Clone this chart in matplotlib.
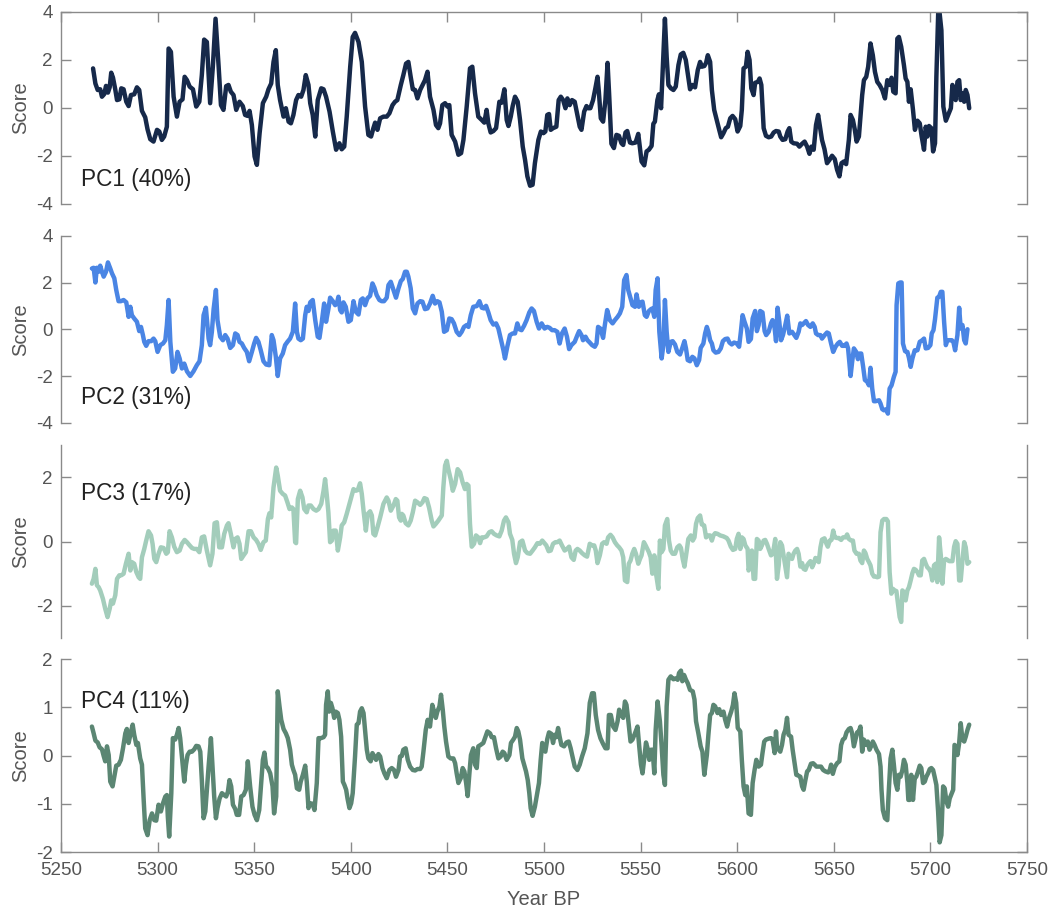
import matplotlib
matplotlib.use("Agg")
import matplotlib.pyplot as plt

plt.rcParams["font.family"] = ["Liberation Sans", "DejaVu Sans"]
plt.rcParams["axes.unicode_minus"] = False

# ---- PC1 ----
pc1_year = [
    5266.6, 5267.8, 5269.0, 5270.3, 5271.2, 5272.4, 5273.3, 5274.3, 5275.2, 5276.0,
    5276.9, 5278.1, 5279.0, 5280.2, 5281.2, 5282.4, 5283.8, 5285.0, 5286.2, 5287.9,
    5289.3, 5290.5, 5291.9, 5293.6, 5294.8, 5296.2, 5297.9, 5299.7, 5300.9, 5302.2,
    5303.4, 5304.8, 5305.7, 5306.9, 5308.3, 5310.0, 5311.4, 5312.9, 5314.0, 5315.2,
    5316.6, 5318.3, 5320.0, 5321.6, 5322.9, 5324.1, 5325.5, 5327.2, 5328.6, 5330.0,
    5331.6, 5332.8, 5334.1, 5335.5, 5336.7, 5337.9, 5339.3, 5340.7, 5342.4, 5344.1,
    5345.3, 5346.6, 5347.6, 5348.8, 5350.2, 5351.4, 5352.8, 5354.5, 5356.2, 5357.4,
    5358.8, 5360.0, 5361.2, 5362.2, 5363.4, 5365.2, 5366.4, 5367.8, 5369.0, 5370.3,
    5371.7, 5372.9, 5374.3, 5375.5, 5376.7, 5378.1, 5379.0, 5380.3, 5381.6, 5382.9,
    5384.7, 5385.9, 5387.2, 5389.0, 5390.7, 5392.4, 5394.1, 5395.3, 5396.6, 5397.9,
    5399.7, 5401.0, 5402.2, 5404.0, 5405.7, 5407.4, 5409.1, 5410.5, 5411.7, 5412.6,
    5413.8, 5415.2, 5416.9, 5418.6, 5420.0, 5421.6, 5422.9, 5424.1, 5425.9, 5427.2,
    5428.6, 5429.8, 5431.0, 5432.1, 5433.3, 5434.5, 5435.9, 5437.2, 5438.4, 5439.7,
    5441.0, 5442.8, 5444.1, 5445.3, 5446.2, 5447.4, 5448.8, 5450.0, 5451.0, 5452.2,
    5454.0, 5455.7, 5457.1, 5458.3, 5460.0, 5461.7, 5462.9, 5464.3, 5466.0, 5467.8,
    5469.1, 5470.3, 5471.2, 5472.4, 5473.8, 5475.2, 5476.9, 5478.1, 5479.5, 5480.7,
    5481.6, 5482.8, 5483.8, 5485.0, 5486.4, 5487.6, 5489.0, 5490.2, 5491.4, 5492.8,
    5494.1, 5495.3, 5497.1, 5498.4, 5499.7,
    5500.7, 5501.7, 5502.6, 5503.5, 5504.7, 5506.4, 5507.6, 5508.7, 5509.9, 5511.1,
    5512.1, 5513.3, 5514.5, 5515.9, 5517.3, 5518.5, 5519.4, 5520.8, 5522.0, 5522.8,
    5524.0, 5525.4, 5526.6, 5527.7, 5528.4, 5529.4, 5530.6, 5531.8, 5532.9, 5533.7,
    5534.9, 5536.2, 5537.5, 5538.8, 5540.1, 5541.0, 5542.2, 5543.1, 5544.5, 5545.7,
    5547.4, 5548.8, 5550.5, 5551.9, 5553.1, 5554.3, 5555.7, 5556.6, 5557.4, 5558.7,
    5559.5, 5560.6, 5561.8, 5562.6, 5563.5, 5564.4, 5565.7, 5567.0, 5568.2, 5569.6,
    5570.8, 5572.1, 5573.4, 5574.4, 5575.6, 5576.8, 5578.2, 5579.6, 5580.8, 5581.7,
    5583.0, 5583.9, 5584.8, 5586.0, 5586.9, 5588.1, 5589.4, 5590.7, 5591.7, 5592.9,
    5594.1, 5595.2, 5596.4, 5597.6, 5599.0, 5600.2, 5601.6, 5602.4, 5603.3, 5604.5,
    5605.4, 5606.4, 5607.3, 5608.5, 5609.3, 5610.7, 5611.6, 5612.5, 5613.7, 5614.9,
    5616.3, 5617.6, 5618.9, 5620.1, 5621.5, 5622.3, 5623.5, 5624.9, 5626.1, 5627.0,
    5628.0, 5629.2, 5631.0, 5632.2, 5633.6, 5634.9, 5636.2, 5637.4, 5638.4, 5639.6,
    5640.8, 5641.9, 5643.1, 5643.9, 5645.2, 5646.5, 5647.8, 5649.1, 5650.5, 5651.7,
    5652.9, 5654.0, 5655.2, 5656.4, 5657.8, 5658.7, 5659.9, 5660.9, 5661.8, 5663.0,
    5663.8, 5664.7, 5665.6, 5666.8, 5667.8, 5669.0, 5670.2, 5671.3, 5672.5, 5673.7,
    5675.1, 5676.5, 5677.7, 5678.9, 5679.9, 5680.8, 5682.0, 5682.9, 5683.7, 5684.9,
    5686.3, 5687.2, 5688.1, 5688.9, 5689.8, 5691.0, 5692.0, 5693.3, 5694.5, 5695.5,
    5696.7, 5697.6, 5698.4, 5699.3, 5700.5, 5701.4, 5702.4, 5703.1, 5704.2, 5705.7,
    5706.7, 5708.0, 5709.2, 5710.6, 5711.4, 5712.3, 5713.1, 5714.0, 5714.9, 5715.7,
    5716.6, 5717.5, 5718.3, 5719.2, 5720.1,
]
pc1_score = [
    1.65, 1.02, 0.75, 0.78, 0.47, 0.58, 0.92, 0.64, 0.86, 1.47,
    1.27, 0.77, 0.33, 0.36, 0.82, 0.78, 0.26, 0.08, 0.54, 0.57,
    0.86, 0.75, -0.12, -0.39, -0.89, -1.30, -1.40, -0.91, -0.98, -1.33,
    -1.19, -0.78, 2.48, 2.34, 0.47, -0.36, 0.26, 0.36, 1.30, 1.16,
    0.89, 0.78, 0.06, 0.26, 1.37, 2.85, 2.75, 0.20, 1.72, 3.72,
    1.72, 0.12, -0.08, 0.91, 0.96, 0.68, 0.54, -0.08, 0.26, 0.08,
    -0.29, -0.33, -0.12, -0.71, -2.02, -2.37, -1.05, 0.20, 0.47, 0.78,
    1.02, 1.92, 2.41, 0.96, 0.33, -0.36, -0.01, -0.57, -0.64, -0.29,
    0.33, 0.54, 0.47, 0.75, 1.37, 0.96, 0.20, -0.29, -1.19, 0.33,
    0.82, 0.78, 0.47, -0.15, -0.98, -1.74, -1.47, -1.72, -1.61, -0.36,
    1.72, 2.96, 3.13, 2.75, 1.92, 0.06, -1.12, -1.19, -0.84, -0.61,
    -0.91, -0.43, -0.36, -0.36, -0.22, 0.12, 0.26, 0.33, 0.96, 1.37,
    1.85, 1.92, 1.30, 0.78, 0.75, 0.40, 0.75, 0.96, 1.16, 1.51,
    0.47, -0.08, -0.71, -0.84, -0.64, 0.12, 0.20, 0.06, 0.12, -1.12,
    -1.40, -1.95, -1.88, -1.33, 0.06, 1.65, 1.72, 0.61, -0.36, -0.50,
    -0.61, -0.08, -0.64, -1.02, -0.96, -0.84, 0.26, 0.22, 0.78, -0.50,
    -0.75, -0.36, 0.08, 0.47, 0.26, -0.50, -1.61, -2.16, -2.85, -3.24,
    -3.20, -2.30, -1.33, -0.98, -1.05,
    -0.98, -0.29, -0.25, -0.91, -0.84, -0.78, 0.33, 0.47, 0.33, -0.01,
    0.40, 0.12, 0.33, 0.26, -0.29, -0.78, -0.91, -0.15, 0.08, -0.01,
    -0.01, 0.33, 0.82, 1.30, 0.68, -0.43, -0.57, 0.33, 1.88, 0.61,
    -1.49, -1.67, -1.12, -1.16, -1.47, -1.54, -1.02, -0.96, -1.44, -1.47,
    -1.44, -1.08, -2.23, -2.39, -1.81, -1.74, -1.58, -0.66, -0.57, 0.33,
    0.57, -0.01, 2.27, 3.72, 2.13, 0.96, 0.82, 0.75, 0.89, 1.79,
    2.23, 2.30, 2.00, 1.44, 0.78, 0.96, 0.86, 1.58, 1.92, 1.72,
    1.75, 1.88, 2.20, 1.92, 0.75, -0.08, -0.50, -0.91, -1.22, -1.05,
    -0.84, -0.78, -0.43, -0.33, -0.47, -0.98, -0.75, -0.08, 1.65, 1.72,
    2.34, 2.00, 0.82, 0.54, 1.05, 1.09, 1.23, 0.96, -0.84, -1.16,
    -1.22, -1.19, -1.02, -0.96, -0.98, -1.19, -1.33, -1.30, -0.98, -0.84,
    -1.40, -1.47, -1.49, -1.61, -1.49, -1.40, -1.61, -1.91, -1.61, -1.74,
    -0.71, -0.29, -0.91, -1.33, -1.72, -2.30, -2.16, -1.99, -2.13, -2.57,
    -2.85, -2.30, -2.23, -2.34, -1.33, -0.29, -0.50, -0.91, -1.40, -1.19,
    -0.36, 0.54, 1.16, 1.30, 1.72, 2.69, 2.20, 1.51, 1.09, 0.96,
    0.75, 0.40, 1.16, 0.96, 1.26, 0.68, 0.61, 2.89, 2.96, 2.55,
    1.79, 1.23, 1.09, 0.26, 0.78, -0.08, -0.91, -0.53, -0.64, -1.19,
    -1.74, -0.78, -1.19, -0.75, -0.84, -1.81, -1.47, 1.30, 4.40, 3.24,
    0.06, -0.53, -0.29, -0.01, 0.96, 0.75, 0.33, 1.09, 1.16, 0.33,
    0.61, 0.26, 0.75, 0.54, -0.01,
]

# ---- PC2 ----
pc2_year = [
    5266.0, 5266.9, 5267.8, 5268.6, 5269.5, 5270.3, 5271.2, 5272.1, 5273.3, 5274.3,
    5275.5, 5276.4, 5277.6, 5278.6, 5279.8, 5281.0, 5282.4, 5283.8, 5285.0, 5285.9,
    5286.7, 5287.9, 5289.3, 5290.5, 5291.4, 5292.4, 5293.1, 5294.1, 5295.3, 5296.7,
    5297.9, 5298.8, 5300.0, 5301.4, 5302.8, 5304.0, 5304.8, 5305.7, 5306.6, 5307.9,
    5309.1, 5310.3, 5311.4, 5312.6, 5313.8, 5315.2, 5316.9, 5318.6, 5320.3, 5321.7,
    5322.9, 5323.8, 5325.0, 5326.4, 5327.2, 5328.1, 5329.0, 5330.2, 5331.0, 5332.4,
    5333.8, 5335.0, 5336.2, 5337.6, 5339.0, 5340.2, 5341.4, 5342.4, 5343.6, 5344.8,
    5346.2, 5347.4, 5348.8, 5350.0, 5351.0, 5352.2, 5353.4, 5354.8, 5356.2, 5357.8,
    5359.1, 5360.0, 5361.2, 5362.2, 5363.4, 5364.8, 5366.0, 5367.2, 5368.6, 5370.0,
    5371.2, 5372.1, 5372.9, 5374.1, 5375.2, 5376.4, 5377.2, 5378.1, 5379.0, 5380.3,
    5381.6, 5382.9, 5383.8, 5385.0, 5386.2, 5387.2, 5388.4, 5389.3, 5390.7, 5391.9,
    5392.8, 5393.6, 5394.5, 5395.3, 5396.2, 5397.4, 5398.8, 5400.0, 5401.4, 5402.6,
    5404.0, 5405.2, 5406.2, 5407.4, 5408.6, 5410.0, 5411.2, 5412.2, 5413.4, 5414.8,
    5416.0, 5417.2, 5418.6, 5419.5, 5420.7, 5422.1, 5423.4, 5424.7, 5425.9, 5426.9,
    5428.1, 5429.0, 5429.8, 5431.0, 5432.1, 5433.3, 5434.5, 5435.9, 5437.1, 5438.4,
    5439.7, 5441.0, 5442.4, 5443.6, 5444.8, 5445.9, 5447.1, 5448.3, 5449.7, 5451.0,
    5452.2, 5453.4, 5454.8, 5456.2, 5457.4, 5458.6, 5460.0, 5460.9, 5462.1, 5463.4,
    5465.2, 5466.6, 5467.8, 5469.0, 5470.0, 5471.2, 5472.4, 5473.8, 5475.2, 5476.4,
    5477.6, 5479.0, 5479.8, 5481.0, 5482.4, 5483.8, 5485.0, 5486.2, 5487.2, 5488.4,
    5489.7, 5491.0, 5492.4, 5493.6, 5494.8, 5496.2, 5497.4, 5498.8,
    5500.3, 5501.7, 5502.9, 5504.2, 5505.5, 5506.9, 5508.1, 5509.3, 5510.7, 5511.9,
    5513.0, 5514.2, 5515.9, 5517.3, 5518.2, 5519.4, 5520.2, 5521.5, 5522.5, 5523.7,
    5524.9, 5526.3, 5527.2, 5528.0, 5529.2, 5530.6, 5531.5, 5532.7, 5534.1, 5535.5,
    5536.7, 5538.1, 5539.3, 5540.5, 5541.5, 5542.7, 5543.6, 5544.8, 5545.8, 5547.1,
    5547.9, 5549.1, 5550.0, 5551.0, 5552.2, 5553.1, 5554.3, 5555.4, 5556.1, 5557.1,
    5557.8, 5558.8, 5559.7, 5560.9, 5561.8, 5562.6, 5563.5, 5564.4, 5565.6, 5566.6,
    5567.8, 5569.0, 5570.4, 5571.6, 5572.7, 5573.5, 5574.4, 5575.6, 5576.8, 5577.9,
    5579.1, 5580.3, 5581.1, 5582.5, 5583.4, 5584.3, 5585.1, 5586.0, 5586.9, 5587.7,
    5588.9, 5590.3, 5591.5, 5592.6, 5593.8, 5595.0, 5596.0, 5597.2, 5598.4, 5599.8,
    5601.0, 5601.9, 5602.8, 5603.8, 5605.0, 5605.9, 5607.1, 5608.0, 5609.3, 5610.2,
    5611.1, 5611.9, 5613.1, 5614.2, 5615.0, 5616.3, 5617.5, 5618.3, 5619.2, 5620.1,
    5620.9, 5621.8, 5622.7, 5623.7, 5624.9, 5625.9, 5627.0, 5628.4, 5629.6, 5630.6,
    5631.8, 5632.7, 5633.6, 5634.4, 5635.6, 5636.7, 5637.9, 5639.1, 5640.1, 5640.8,
    5641.9, 5643.1, 5643.9, 5645.3, 5646.5, 5647.4, 5648.6, 5649.7, 5650.9, 5652.1,
    5653.1, 5654.3, 5655.5, 5656.6, 5657.4, 5658.7, 5659.5, 5660.4, 5661.6, 5662.5,
    5663.3, 5664.2, 5665.2, 5666.1, 5667.3, 5668.2, 5669.0, 5669.9, 5670.8, 5671.6,
    5673.4, 5674.2, 5675.1, 5676.0, 5677.2, 5678.0, 5678.9, 5679.9, 5681.1, 5682.0,
    5682.5, 5683.4, 5684.3, 5685.1, 5685.8, 5686.9, 5688.1, 5688.9, 5689.8, 5690.7,
    5691.9, 5693.3, 5694.5, 5695.8, 5696.7, 5697.6, 5698.8, 5700.0, 5700.7, 5701.6,
    5702.4, 5703.6, 5704.5, 5705.4, 5706.2, 5707.1, 5708.0, 5708.8, 5710.0, 5711.1,
    5711.9, 5712.8, 5714.0, 5714.9, 5715.7, 5716.6, 5717.5, 5718.3, 5719.2,
]
pc2_score = [
    2.61, 2.64, 2.01, 2.64, 2.47, 2.73, 2.47, 2.26, 2.47, 2.87,
    2.61, 2.40, 2.19, 1.69, 1.21, 1.21, 1.26, 1.16, 0.54, 0.97,
    0.61, 0.47, 0.33, -0.07, 0.11, -0.24, -0.53, -0.70, -0.50, -0.50,
    -0.39, -0.50, -0.96, -0.67, -0.60, -0.46, 0.19, 1.26, -0.53, -1.81,
    -1.67, -0.96, -1.24, -1.67, -1.46, -1.79, -1.99, -1.79, -1.53, -1.36,
    -0.67, 0.61, 0.93, -0.39, -0.67, -0.10, 0.87, 1.69, 0.40, -0.31,
    -0.46, -0.24, -0.39, -0.79, -0.67, -0.17, -0.24, -0.53, -0.60, -0.79,
    -0.96, -1.36, -0.96, -0.60, -0.36, -0.53, -0.89, -1.36, -1.50, -1.53,
    -0.24, -0.46, -1.17, -1.99, -1.24, -1.03, -0.67, -0.53, -0.39, -0.10,
    1.11, -0.10, -0.39, -0.46, -0.39, 0.61, 0.97, 0.79, 1.16, 1.26,
    0.40, -0.31, -0.36, 0.33, 1.11, 0.33, 0.87, 1.36, 1.21, 1.04,
    1.11, 1.40, 0.83, 0.73, 1.16, 0.97, 0.33, 0.40, 1.21, 0.76,
    0.64, 1.26, 1.33, 1.04, 1.33, 1.44, 1.97, 1.79, 1.47, 1.26,
    1.21, 1.21, 1.36, 1.90, 2.04, 1.69, 1.36, 1.76, 2.07, 2.16,
    2.47, 2.47, 2.26, 1.76, 0.90, 0.69, 1.11, 1.21, 1.19, 0.87,
    0.90, 1.11, 1.44, 1.11, 1.21, 1.16, 0.76, -0.10, -0.03, 0.47,
    0.44, 0.26, -0.10, -0.24, -0.10, 0.11, 0.19, 0.11, 0.61, 0.97,
    1.00, 1.21, 0.93, 0.90, 1.01, 0.73, 0.40, 0.21, 0.26, 0.04,
    -0.39, -0.89, -1.24, -0.74, -0.24, -0.17, -0.17, 0.26, 0.01, -0.03,
    0.16, 0.40, 0.73, 0.90, 0.79, 0.33, 0.04, 0.26,
    0.04, 0.11, 0.07, -0.03, -0.03, -0.10, -0.60, -0.17, 0.04, -0.31,
    -0.84, -0.67, -0.53, -0.24, -0.07, -0.24, -0.46, -0.31, -0.46, -0.56,
    -0.67, -0.74, -0.60, 0.11, 0.04, -0.36, 0.19, 0.83, 0.40, 0.26,
    0.40, 0.54, 0.69, 0.97, 2.11, 2.33, 1.69, 1.33, 1.04, 0.97,
    1.50, 0.97, 1.16, 1.19, 0.61, 0.54, 0.79, 0.87, 0.90, 0.54,
    1.69, 2.19, -0.10, -1.24, -0.67, 1.26, -0.10, -0.96, -0.53, -0.50,
    -0.64, -0.96, -1.07, -0.79, -0.50, -0.81, -1.31, -1.36, -1.17, -1.24,
    -1.53, -1.31, -0.79, -0.60, -0.17, 0.11, -0.10, -0.46, -0.60, -0.89,
    -0.99, -0.96, -0.81, -0.50, -0.41, -0.39, -0.56, -0.64, -0.56, -0.60,
    -0.74, -0.10, 0.61, 0.33, 0.04, -0.53, -0.41, 0.47, 0.79, -0.07,
    0.19, 0.79, 0.73, -0.07, -0.24, -0.10, 0.26, 0.40, 0.19, -0.50,
    0.93, 0.33, -0.46, -0.24, 0.19, 0.59, -0.17, -0.10, -0.24, -0.36,
    -0.10, 0.26, 0.19, 0.26, 0.36, 0.19, 0.11, 0.26, 0.11, -0.17,
    -0.24, -0.24, -0.39, -0.24, -0.13, -0.17, -0.60, -0.96, -0.74, -0.60,
    -0.53, -0.70, -0.70, -0.60, -0.81, -1.99, -1.39, -0.81, -0.96, -1.27,
    -1.03, -1.03, -1.60, -2.16, -2.24, -2.39, -1.64, -2.53, -3.07, -3.07,
    -3.03, -3.17, -3.41, -3.46, -3.41, -3.60, -2.53, -2.39, -2.03, -1.81,
    1.04, 1.97, 2.01, 2.01, -0.60, -0.93, -0.96, -1.21, -1.60, -1.24,
    -0.89, -0.89, -0.53, -0.46, -0.39, -0.81, -0.79, -0.67, -0.17, -0.03,
    0.44, 1.36, 1.40, 1.61, 1.61, 0.33, -0.67, -0.46, -0.46, -0.46,
    -0.53, -0.89, -0.24, 0.93, 0.04, 0.19, -0.46, -0.60, 0.01,
]

# ---- PC3 ----
pc3_year = [
    5266.0, 5266.9, 5267.8, 5268.6, 5269.5, 5270.3, 5271.7, 5272.9, 5274.1, 5275.2,
    5276.0, 5276.9, 5278.1, 5279.0, 5280.2, 5281.2, 5282.4, 5283.6, 5285.0, 5285.9,
    5286.7, 5287.9, 5289.0, 5290.2, 5291.0, 5291.9, 5293.1, 5294.1, 5295.3, 5296.6,
    5297.4, 5298.3, 5299.3, 5300.5, 5301.7, 5303.1, 5304.5, 5305.3, 5306.2, 5307.4,
    5308.6, 5310.0, 5311.4, 5312.6, 5314.0, 5315.2, 5316.6, 5317.8, 5319.0, 5320.3,
    5321.6, 5322.9, 5324.1, 5325.5, 5327.2, 5328.4, 5329.5, 5330.7, 5331.9, 5333.3,
    5334.5, 5335.9, 5336.7, 5337.9, 5339.3, 5340.2, 5341.4, 5342.4, 5343.3, 5344.5,
    5345.7, 5347.1, 5348.3, 5349.7, 5351.0, 5352.2, 5353.4, 5354.8, 5356.0, 5357.1,
    5357.9, 5358.8, 5360.0, 5361.4, 5362.2, 5363.4, 5364.8, 5366.0, 5367.2, 5368.3,
    5369.5, 5370.3, 5371.2, 5371.7, 5372.6, 5373.8, 5375.0, 5375.9, 5377.2, 5378.1,
    5379.3, 5380.7, 5382.1, 5383.3, 5384.7, 5385.9, 5386.7, 5387.6, 5388.4, 5389.3,
    5390.2, 5391.0, 5392.2, 5393.3, 5394.5, 5395.3, 5396.6, 5397.9, 5399.3, 5400.5,
    5401.4, 5402.6, 5403.6, 5404.8, 5405.7, 5406.6, 5407.8, 5408.8, 5410.0, 5410.9,
    5411.7, 5412.6, 5413.8, 5415.2, 5416.9, 5418.6, 5419.5, 5420.7, 5422.1, 5423.3,
    5424.1, 5425.0, 5425.9, 5426.4, 5427.2, 5428.4, 5429.8, 5431.0, 5432.1, 5433.3,
    5434.5, 5435.9, 5437.1, 5438.1, 5439.3, 5440.5, 5441.9, 5442.8, 5444.0, 5445.3,
    5447.1, 5447.9, 5448.8, 5449.7, 5450.5, 5451.7, 5452.8, 5454.0, 5455.3, 5456.6,
    5457.9, 5459.1, 5460.0, 5460.9, 5461.7, 5462.6, 5463.8, 5464.8, 5466.0, 5466.9,
    5467.8, 5469.0, 5470.3, 5471.7, 5472.9, 5474.1, 5475.5, 5476.9, 5478.1, 5479.3,
    5480.3, 5481.6, 5482.4, 5483.6, 5484.5, 5485.5, 5486.4, 5487.6, 5488.8, 5490.2,
    5491.4, 5492.8, 5494.1, 5495.3, 5496.6, 5497.9, 5499.1,
    5501.2, 5502.4, 5503.5, 5504.7, 5505.9, 5506.9, 5508.1, 5509.3, 5510.7, 5511.9,
    5513.0, 5514.2, 5515.4, 5516.4, 5517.3, 5518.5, 5519.7, 5521.1, 5522.3, 5523.7,
    5524.9, 5526.0, 5526.8, 5527.7, 5528.9, 5530.1, 5531.1, 5532.4, 5533.2, 5534.4,
    5535.5, 5536.7, 5537.9, 5538.9, 5540.1, 5541.0, 5541.9, 5543.1, 5543.9, 5544.8,
    5545.7, 5546.7, 5547.6, 5548.8, 5549.7, 5550.5, 5551.7, 5552.6, 5553.5, 5554.3,
    5555.2, 5556.1, 5557.1, 5558.0, 5559.2, 5560.0, 5560.9, 5561.8, 5562.6, 5563.8,
    5564.7, 5565.6, 5566.6, 5567.8, 5569.0, 5570.1, 5570.9, 5571.8, 5572.7, 5573.9,
    5574.7, 5576.0, 5577.0, 5577.9, 5578.7, 5579.6, 5580.8, 5581.7, 5582.9, 5583.9,
    5585.1, 5586.0, 5586.9, 5587.7, 5588.6, 5589.8, 5591.2, 5592.9, 5594.6, 5595.5,
    5596.7, 5597.8, 5599.0, 5599.8, 5600.7, 5601.6, 5602.4, 5603.3, 5604.2, 5605.4,
    5605.9, 5606.7, 5607.6, 5608.5, 5609.3, 5610.2, 5611.1, 5611.9, 5612.8, 5613.7,
    5614.5, 5615.4, 5616.3, 5617.5, 5618.5, 5619.7, 5620.6, 5621.5, 5622.3, 5623.2,
    5624.0, 5624.9, 5625.8, 5626.6, 5627.5, 5628.4, 5629.2, 5630.1, 5631.0, 5631.8,
    5632.7, 5633.6, 5634.4, 5635.3, 5636.2, 5637.0, 5637.9, 5638.8, 5639.6, 5640.5,
    5641.3, 5642.2, 5643.1, 5643.9, 5645.2, 5646.2, 5646.9, 5647.9, 5648.8, 5649.7,
    5650.5, 5651.7, 5652.6, 5653.8, 5654.8, 5656.1, 5656.9, 5657.8, 5659.0, 5659.9,
    5660.7, 5661.8, 5663.0, 5663.8, 5664.7, 5665.6, 5666.4, 5667.3, 5668.2, 5669.0,
    5669.9, 5670.8, 5671.6, 5672.5, 5673.4, 5674.2, 5675.1, 5676.0, 5677.2, 5678.0,
    5678.9, 5679.8, 5680.6, 5681.5, 5682.4, 5683.2, 5684.1, 5684.9, 5685.5, 5686.3,
    5687.2, 5688.1, 5688.9, 5689.8, 5690.7, 5691.5, 5692.4, 5693.3, 5694.1, 5695.0,
    5695.8, 5696.7, 5697.6, 5698.4, 5699.3, 5700.2, 5701.0, 5701.9, 5702.8, 5703.6,
    5704.5, 5705.4, 5706.2, 5707.1, 5708.0, 5708.8, 5709.7, 5710.6, 5711.4, 5712.3,
    5713.1, 5714.0, 5714.9, 5715.7, 5716.6, 5717.5, 5718.3, 5719.2, 5720.1,
]
pc3_score = [
    -1.31, -1.16, -0.85, -1.36, -1.42, -1.52, -1.78, -2.09, -2.35, -2.09,
    -1.83, -1.93, -1.67, -1.16, -1.05, -1.05, -1.00, -0.69, -0.38, -0.90,
    -0.64, -0.69, -0.95, -1.11, -1.16, -0.49, -0.23, 0.03, 0.32, 0.19,
    -0.07, -0.54, -0.64, -0.38, -0.18, -0.20, -0.38, -0.33, 0.32, 0.13,
    -0.16, -0.33, -0.28, -0.07, 0.05, -0.02, -0.12, -0.20, -0.23, -0.23,
    -0.33, 0.13, 0.16, -0.28, -0.74, -0.38, 0.57, 0.60, -0.18, -0.18,
    0.24, 0.50, 0.57, 0.24, -0.18, 0.08, 0.13, -0.07, -0.54, -0.43,
    -0.33, 0.32, 0.32, 0.13, 0.05, -0.07, -0.26, -0.02, 0.03, 0.70,
    0.88, 0.75, 1.68, 2.30, 2.05, 1.58, 1.48, 1.43, 1.22, 1.01,
    1.06, 1.01, -0.02, -0.05, 1.32, 1.58, 1.37, 1.01, 0.91, 1.12,
    1.12, 1.01, 0.96, 1.01, 1.17, 1.58, 1.94, 1.43, 0.91, -0.02,
    0.03, 0.34, 0.34, -0.28, 0.13, 0.50, 0.60, 0.86, 1.17, 1.43,
    1.63, 1.58, 1.60, 1.81, 1.48, 0.96, 0.34, 0.86, 0.94, 0.81,
    0.24, 0.19, 0.44, 0.75, 1.17, 1.37, 1.27, 0.96, 1.12, 1.32,
    1.27, 0.75, 0.65, 0.86, 0.81, 0.57, 0.50, 0.65, 0.91, 1.27,
    1.22, 1.14, 1.22, 1.35, 1.32, 1.06, 0.65, 0.47, 0.55, 0.65,
    0.81, 1.68, 2.36, 2.51, 2.25, 1.94, 1.58, 1.79, 2.25, 2.15,
    1.84, 1.63, 1.79, 1.74, 0.55, -0.16, -0.07, 0.19, 0.13, -0.05,
    0.13, 0.13, 0.16, 0.29, 0.32, 0.24, 0.19, 0.16, 0.34, 0.65,
    0.75, 0.60, 0.24, 0.05, -0.38, -0.67, -0.49, -0.02, 0.03, -0.28,
    -0.36, -0.38, -0.28, -0.18, -0.05, -0.07, 0.03,
    -0.12, -0.30, -0.28, -0.07, -0.02, -0.02, 0.03, -0.12, -0.28, -0.23,
    -0.16, -0.49, -0.57, -0.28, -0.23, -0.28, -0.36, -0.43, -0.47, -0.07,
    -0.12, -0.12, -0.28, -0.67, -0.43, -0.07, -0.02, -0.07, 0.13, 0.21,
    0.13, -0.02, -0.12, -0.18, -0.28, -0.49, -1.21, -1.26, -0.69, -0.59,
    -0.38, -0.23, -0.38, -0.69, -0.54, -0.43, -0.02, -0.12, -0.23, -0.33,
    -0.49, -1.00, -0.43, -1.00, -1.47, 0.03, -0.33, -0.23, 0.50, 0.70,
    0.03, -0.28, -0.38, -0.38, -0.18, -0.12, -0.20, -0.54, -0.78, -0.28,
    0.08, 0.19, 0.03, 0.13, 0.55, 0.73, 0.81, 0.53, 0.50, 0.13,
    0.19, 0.19, 0.03, 0.19, 0.26, 0.24, 0.19, 0.16, 0.11, 0.03,
    -0.16, -0.26, -0.23, 0.08, 0.24, -0.23, 0.13, 0.08, -0.12, -0.23,
    -0.90, -0.74, -0.28, -1.16, -1.16, 0.08, 0.03, -0.23, -0.12, 0.03,
    0.05, -0.07, -0.23, -0.43, -0.38, 0.08, -1.16, -0.74, -0.02, -0.12,
    -0.43, -0.80, -1.11, -0.38, -0.49, -0.54, -0.38, -0.28, -0.23, -0.38,
    -0.78, -0.67, -0.85, -0.88, -0.74, -0.67, -0.61, -0.80, -0.69, -0.51,
    -0.54, -0.64, -0.18, 0.06, 0.10, -0.07, -0.16, 0.03, 0.05, 0.34,
    0.13, 0.11, 0.11, 0.05, 0.13, 0.13, 0.22, 0.08, 0.03, 0.03,
    -0.28, -0.38, -0.38, -0.59, -0.67, -0.28, -0.36, -0.54, -0.64, -0.74,
    -1.00, -1.09, -1.09, -1.11, -1.09, 0.29, 0.65, 0.70, 0.70, 0.63,
    -0.95, -1.62, -1.47, -1.52, -1.54, -1.93, -2.35, -2.50, -1.52, -1.57,
    -1.83, -1.52, -1.42, -1.21, -0.98, -0.85, -0.88, -0.95, -1.05, -1.05,
    -0.59, -0.54, -0.69, -0.80, -0.85, -0.95, -1.21, -0.74, -0.69, -1.26,
    0.13, -0.43, -1.31, -0.59, -0.54, -0.57, -0.61, -0.61, -0.61, -0.16,
    0.01, -0.07, -1.21, -1.21, -0.59, -0.02, -0.18, -0.69, -0.64,
]

# ---- PC4 ----
pc4_year = [
    5266.0, 5266.9, 5267.8, 5269.0, 5270.0, 5271.2, 5272.1, 5272.9, 5273.8, 5274.7,
    5275.5, 5276.7, 5277.6, 5278.6, 5279.8, 5281.0, 5282.1, 5283.3, 5284.1, 5285.0,
    5285.9, 5287.1, 5287.9, 5289.0, 5289.8, 5291.0, 5291.9, 5292.8, 5293.6, 5294.8,
    5295.9, 5297.1, 5298.3, 5299.3, 5300.5, 5301.7, 5302.8, 5304.0, 5304.8, 5305.3,
    5306.0, 5307.1, 5307.9, 5309.1, 5310.0, 5310.9, 5311.7, 5312.6, 5313.8, 5314.7,
    5315.5, 5316.6, 5317.8, 5319.0, 5320.0, 5321.2, 5322.1, 5322.9, 5323.8, 5324.7,
    5325.5, 5326.4, 5327.6, 5328.6, 5329.3, 5330.2, 5331.0, 5332.1, 5333.3, 5334.5,
    5335.5, 5336.4, 5337.2, 5338.1, 5339.0, 5340.2, 5341.0, 5342.2, 5343.3, 5344.5,
    5345.7, 5346.7, 5347.9, 5349.1, 5350.2, 5351.4, 5352.6, 5353.6, 5354.5, 5355.3,
    5356.2, 5357.1, 5358.3, 5359.5, 5360.3, 5361.4, 5362.2, 5363.1, 5364.0, 5365.2,
    5366.4, 5367.4, 5368.6, 5369.5, 5370.3, 5371.2, 5372.1, 5373.3, 5374.1, 5375.2,
    5376.4, 5377.2, 5378.1, 5379.0, 5380.2, 5381.2, 5382.4, 5383.3, 5384.5, 5385.9,
    5386.7, 5387.2, 5388.1, 5388.8, 5389.7, 5390.5, 5391.4, 5392.2, 5393.3, 5394.1,
    5395.0, 5395.9, 5396.7, 5397.6, 5398.3, 5399.3, 5400.2, 5401.0, 5402.2, 5403.1,
    5404.0, 5404.8, 5405.7, 5406.6, 5407.4, 5408.3, 5409.1, 5410.3, 5411.2, 5412.2,
    5413.1, 5414.3, 5415.2, 5416.4, 5417.4, 5418.6, 5420.0, 5421.2, 5422.4, 5423.4,
    5424.7, 5425.5, 5426.4, 5427.2, 5428.4, 5429.5, 5430.7, 5432.1, 5433.3, 5434.5,
    5435.9, 5436.7, 5437.6, 5438.8, 5439.8, 5441.0, 5442.2, 5443.1, 5444.0, 5444.8,
    5445.9, 5446.7, 5447.6, 5448.4, 5449.3, 5450.5, 5451.7, 5453.1, 5454.0, 5454.8,
    5455.7, 5456.9, 5457.9, 5458.8, 5459.7, 5460.5, 5461.4, 5462.2, 5463.4, 5464.3,
    5465.2, 5466.0, 5467.2, 5468.6, 5469.5, 5470.7, 5472.1, 5472.9, 5474.1, 5475.2,
    5476.4, 5477.6, 5478.6, 5479.5, 5480.7, 5482.1, 5482.9, 5484.1, 5485.0, 5485.9,
    5486.7, 5487.6, 5488.8, 5489.7, 5490.7, 5491.6, 5492.4, 5493.1, 5494.1, 5495.3,
    5496.2, 5497.4, 5498.3, 5499.1,
    5500.7, 5501.7, 5502.6, 5503.8, 5504.7, 5505.5, 5506.4, 5507.3, 5508.1, 5509.0,
    5510.4, 5511.6, 5512.8, 5513.8, 5515.1, 5515.9, 5517.3, 5518.5, 5519.7, 5521.1,
    5522.5, 5523.7, 5524.9, 5525.8, 5526.8, 5528.0, 5529.2, 5530.6, 5531.8, 5532.9,
    5533.6, 5534.6, 5535.8, 5537.0, 5538.1, 5538.9, 5540.1, 5541.0, 5541.9, 5542.7,
    5543.6, 5544.8, 5545.8, 5547.1, 5548.4, 5549.3, 5550.2, 5551.0, 5551.9, 5552.8,
    5553.6, 5554.5, 5555.4, 5556.2, 5557.1, 5557.8, 5558.8, 5560.0, 5560.9, 5561.8,
    5562.6, 5563.5, 5564.4, 5565.6, 5567.0, 5568.2, 5569.2, 5569.9, 5570.9, 5571.6,
    5572.5, 5573.5, 5574.4, 5575.6, 5577.0, 5577.9, 5578.7, 5579.9, 5581.1, 5582.0,
    5583.0, 5584.3, 5585.1, 5586.0, 5586.9, 5587.7, 5588.6, 5589.8, 5590.7, 5591.7,
    5592.9, 5593.8, 5594.8, 5595.8, 5596.9, 5597.8, 5598.6, 5599.5, 5600.3, 5601.6,
    5602.4, 5603.3, 5604.2, 5605.0, 5605.9, 5607.1, 5608.0, 5609.0, 5609.9, 5611.1,
    5612.3, 5613.1, 5614.0, 5614.9, 5616.3, 5617.5, 5618.3, 5619.4, 5620.1, 5620.6,
    5621.5, 5622.3, 5623.2, 5624.0, 5624.9, 5625.8, 5626.6, 5627.9, 5628.7, 5629.8,
    5630.6, 5631.8, 5632.7, 5633.6, 5634.4, 5635.3, 5636.2, 5637.0, 5638.2, 5639.3,
    5640.1, 5641.0, 5642.2, 5643.4, 5644.5, 5645.7, 5647.1, 5647.9, 5648.6, 5649.5,
    5650.5, 5651.7, 5652.9, 5653.8, 5654.7, 5655.7, 5656.6, 5657.8, 5658.7, 5659.5,
    5660.4, 5661.2, 5662.1, 5663.0, 5663.8, 5664.7, 5665.6, 5666.8, 5667.6, 5668.5,
    5669.4, 5670.2, 5671.1, 5672.1, 5673.4, 5674.2, 5674.7, 5675.4, 5676.5, 5677.7,
    5678.5, 5679.4, 5680.3, 5681.1, 5682.0, 5682.9, 5683.7, 5684.6, 5685.5, 5686.3,
    5687.2, 5688.1, 5688.6, 5689.3, 5690.1, 5691.0, 5691.9, 5692.7, 5693.6, 5694.5,
    5695.3, 5696.2, 5697.1, 5697.9, 5698.8, 5699.7, 5700.5, 5701.4, 5702.2, 5703.1,
    5704.0, 5704.8, 5705.7, 5706.6, 5707.4, 5708.3, 5709.2, 5710.0, 5711.1, 5711.8,
    5712.5, 5713.1, 5714.0, 5714.9, 5715.7, 5716.6, 5717.5, 5718.3, 5719.2, 5720.1,
]
pc4_score = [
    0.60, 0.46, 0.31, 0.27, 0.17, 0.13, -0.01, -0.12, 0.19, 0.01,
    -0.54, -0.64, -0.44, -0.21, -0.19, -0.09, 0.15, 0.46, 0.55, 0.26,
    0.43, 0.64, 0.43, 0.22, 0.26, -0.06, -0.19, -0.92, -1.51, -1.65,
    -1.34, -1.20, -1.34, -1.35, -1.02, -1.16, -0.99, -0.85, -0.82, -1.27,
    -1.68, -0.78, 0.36, 0.33, 0.43, 0.57, 0.36, -0.02, -0.54, -0.19,
    0.01, 0.08, 0.08, 0.13, 0.20, 0.19, 0.08, -0.51, -1.30, -1.16,
    -0.71, -0.23, 0.36, -0.37, -0.85, -1.30, -1.09, -0.89, -0.78, -0.82,
    -0.85, -0.75, -0.51, -0.64, -1.02, -1.11, -1.23, -1.23, -0.85, -0.82,
    -0.71, -0.12, -0.64, -1.06, -1.23, -1.34, -1.13, -0.57, -0.09, 0.06,
    -0.23, -0.26, -0.37, -0.64, -1.20, -0.85, 1.33, 1.02, 0.74, 0.55,
    0.46, 0.36, 0.12, -0.19, -0.30, -0.40, -0.68, -0.71, -0.54, -0.40,
    -0.21, -0.54, -1.09, -0.99, -1.00, -1.13, -0.57, 0.36, 0.36, 0.38,
    0.43, 1.05, 1.33, 0.91, 1.09, 0.98, 0.78, 0.91, 0.88, 0.74,
    0.39, -0.54, -0.61, -0.71, -0.89, -1.09, -0.99, -0.78, -0.02, 0.64,
    0.67, 0.91, 0.98, 0.88, 0.53, 0.12, -0.06, -0.12, 0.05, -0.02,
    -0.09, 0.03, -0.02, -0.26, -0.37, -0.47, -0.30, -0.26, -0.30, -0.44,
    -0.30, -0.02, -0.01, 0.12, 0.15, -0.09, -0.23, -0.30, -0.31, -0.28,
    -0.28, -0.23, 0.08, 0.53, 0.74, 0.60, 1.05, 0.91, 0.78, 0.91,
    1.02, 1.26, 0.95, 0.60, 0.29, -0.02, -0.06, -0.06, -0.16, -0.37,
    -0.57, -0.47, -0.26, -0.33, -0.57, -0.84, -0.37, 0.01, 0.15, -0.19,
    -0.26, 0.19, 0.22, 0.26, 0.36, 0.50, 0.46, 0.38, 0.38, 0.15,
    -0.06, -0.02, 0.08, 0.05, -0.09, 0.01, 0.26, 0.33, 0.39, 0.57,
    0.50, 0.33, -0.06, -0.19, -0.33, -0.51, -0.78, -1.09, -1.25, -1.06,
    -0.85, -0.57, -0.09, 0.26,
    0.08, 0.34, 0.48, 0.45, 0.26, 0.43, 0.38, 0.57, 0.39, 0.22,
    0.19, 0.27, 0.29, 0.15, -0.09, -0.23, -0.30, -0.19, -0.02, 0.15,
    0.46, 1.09, 1.29, 1.29, 0.84, 0.53, 0.36, 0.24, 0.15, 0.15,
    0.84, 0.84, 0.60, 0.53, 0.71, 0.95, 0.84, 0.78, 1.12, 1.05,
    0.74, 0.29, 0.33, 0.46, 0.60, 0.19, -0.19, -0.37, -0.06, 0.27,
    0.15, -0.09, 0.12, 0.12, -0.37, 0.53, 1.12, 0.71, 0.19, -0.40,
    -0.61, 1.02, 1.57, 1.64, 1.58, 1.60, 1.57, 1.71, 1.76, 1.54,
    1.67, 1.57, 1.50, 1.36, 1.33, 1.16, 0.71, 0.46, 0.19, 0.08,
    -0.40, 0.01, 0.43, 0.84, 0.88, 1.05, 1.02, 0.88, 0.96, 0.84,
    0.91, 0.74, 0.60, 0.78, 0.91, 1.05, 1.29, 1.09, 0.57, 0.50,
    -0.09, -0.64, -0.82, -0.64, -1.20, -1.23, -0.57, -0.30, -0.09, -0.23,
    -0.19, 0.05, 0.29, 0.33, 0.35, 0.36, 0.33, 0.05, 0.50, 0.19,
    0.12, 0.08, 0.22, 0.43, 0.53, 0.78, 0.43, 0.39, 0.12, -0.19,
    -0.40, -0.42, -0.44, -0.64, -0.71, -0.51, -0.33, -0.30, -0.17, -0.16,
    -0.19, -0.23, -0.23, -0.23, -0.30, -0.33, -0.35, -0.30, -0.19, -0.38,
    -0.24, -0.16, -0.12, 0.22, 0.33, 0.36, 0.48, 0.55, 0.57, 0.46,
    0.19, 0.33, 0.48, 0.50, 0.60, 0.08, 0.33, 0.22, 0.29, 0.12,
    0.20, 0.29, 0.22, 0.12, 0.03, -0.23, -0.71, -1.13, -1.30, -1.34,
    -0.71, -0.06, 0.12, -0.19, -0.57, -0.71, -0.40, -0.44, -0.30, -0.09,
    -0.19, -0.57, -0.92, -0.92, -0.40, -0.92, -0.47, -0.44, -0.33, -0.21,
    -0.26, -0.57, -0.54, -0.44, -0.37, -0.28, -0.26, -0.30, -0.44, -0.61,
    -1.16, -1.80, -1.65, -0.64, -0.68, -0.95, -1.06, -0.89, -0.78, -0.71,
    0.22, 0.19, 0.01, 0.26, 0.67, 0.33, 0.29, 0.39, 0.53, 0.64,
]

labels = ["PC1 (40%)", "PC2 (31%)", "PC3 (17%)", "PC4 (11%)"]
colors = ["#16294a", "#4a85e4", "#a3cdbb", "#5b8673"]
ylims = [(-4, 4), (-4, 4), (-3, 3), (-2, 2)]
yticks = [[-4, -2, 0, 2, 4], [-4, -2, 0, 2, 4], [-2, 0, 2], [-2, -1, 0, 1, 2]]
xticks = list(range(5250, 5751, 50))

years = [pc1_year, pc2_year, pc3_year, pc4_year]
scores = [pc1_score, pc2_score, pc3_score, pc4_score]

# axes boxes in figure fraction (left, bottom, width, height)
boxes = [
    (0.0577, 0.7756, 0.9139, 0.2112),
    (0.0577, 0.5347, 0.9139, 0.2057),
    (0.0577, 0.2981, 0.9139, 0.2123),
    (0.0577, 0.0627, 0.9139, 0.2123),
]
label_y = [0.13, 0.136, 0.751, 0.78]

spine_col = "#8a8a8a"
tick_col = "#555555"

fig = plt.figure(figsize=(10.57, 9.09), dpi=100)

for i in range(4):
    ax = fig.add_axes(boxes[i])
    ax.plot(years[i], scores[i], color=colors[i], lw=3.2,
            solid_joinstyle="round", solid_capstyle="round")
    ax.set_xlim(5250, 5750)
    ax.set_ylim(*ylims[i])
    ax.set_yticks(yticks[i])
    ax.set_xticks(xticks)

    for side in ["left", "right", "top", "bottom"]:
        ax.spines[side].set_color(spine_col)
        ax.spines[side].set_linewidth(1.0)
    ax.spines["top"].set_visible(i == 0)
    ax.spines["bottom"].set_visible(i == 3)

    ax.tick_params(axis="y", direction="in", left=True, right=True,
                   labelleft=True, labelright=False, length=7, width=1.0,
                   color=spine_col, labelcolor=tick_col, labelsize=13.5, pad=6)
    if i == 0:
        ax.tick_params(axis="x", direction="in", top=True, bottom=False,
                       labeltop=False, labelbottom=False, length=7, width=1.0,
                       color=spine_col)
    elif i == 3:
        ax.tick_params(axis="x", direction="in", top=False, bottom=True,
                       labelbottom=True, length=7, width=1.0, color=spine_col,
                       labelcolor=tick_col, labelsize=13.5, pad=7)
        ax.set_xlabel("Year BP", fontsize=14.5, color=tick_col, labelpad=8)
    else:
        ax.tick_params(axis="x", top=False, bottom=False,
                       labeltop=False, labelbottom=False)

    ax.set_ylabel("Score", fontsize=14.5, color=tick_col)
    ax.yaxis.set_label_coords(-0.032, 0.5)
    ax.text(0.021, label_y[i], labels[i], transform=ax.transAxes,
            fontsize=16.3, ha="left", va="center", color="#222222")

fig.savefig("out.png", dpi=100)
